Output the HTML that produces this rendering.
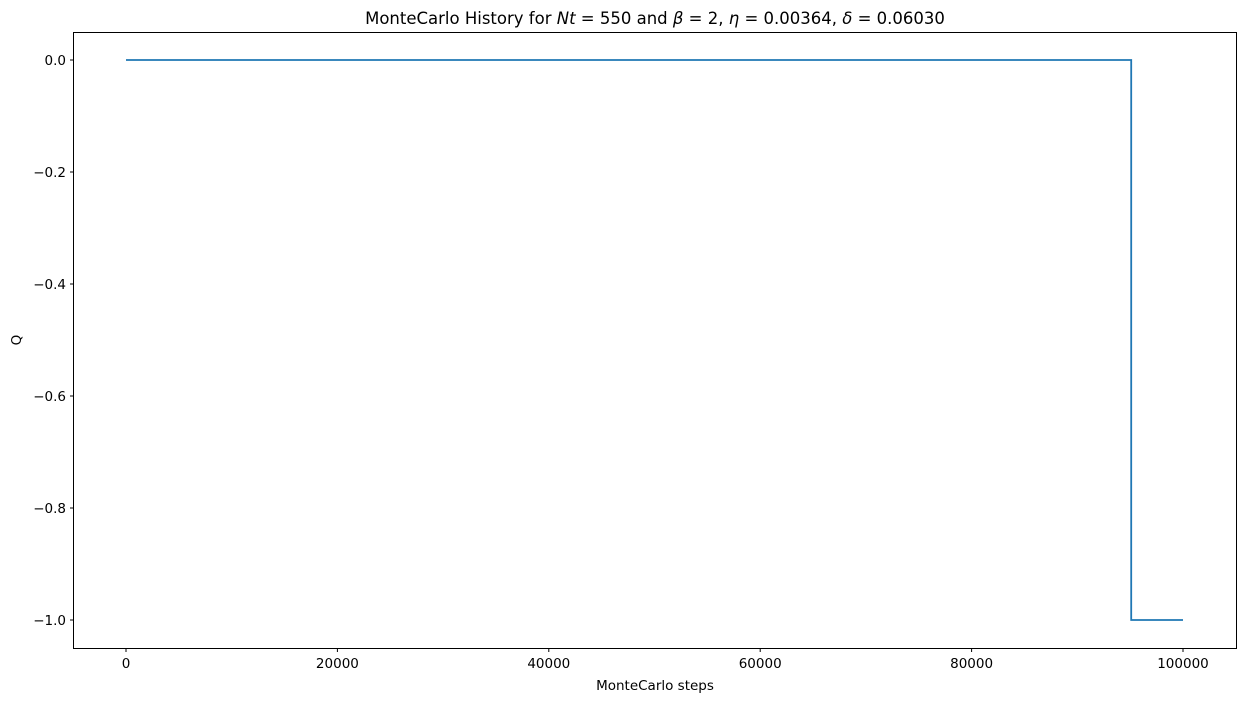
<!DOCTYPE html>
<html><head><meta charset="utf-8"><style>
body{margin:0;background:#fff;font-family:"DejaVu Sans","Liberation Sans",sans-serif;}
svg text{font-family:"DejaVu Sans","Liberation Sans",sans-serif;fill:#000;}
</style></head><body>
<svg id="chart" width="1245" height="701">
<rect x="0" y="0" width="1245" height="701" fill="#fff"/>
<text x="655" y="24" font-size="16.5" text-anchor="middle">MonteCarlo History for <tspan font-style="italic">Nt</tspan> = 550 and  <tspan font-style="italic">β</tspan> = 2, <tspan font-style="italic">η</tspan> = 0.00364, <tspan font-style="italic">δ</tspan> = 0.06030</text>
<g id="xt"></g><g id="yt"></g>
<path id="line" fill="none" stroke="#1f77b4" stroke-width="1.8"/>
<rect x="73.5" y="32.5" width="1163" height="616" fill="none" stroke="#000" stroke-width="1"/>
<text x="655" y="690" font-size="13.5" text-anchor="middle">MonteCarlo steps</text>
<text x="21" y="340" font-size="13.5" text-anchor="middle" transform="rotate(-90 21 340)">Q</text>
</svg>
<script>
const xTicks=[0,20000,40000,60000,80000,100000];
const yTicks=[0.0,-0.2,-0.4,-0.6,-0.8,-1.0];
const yTickLabels=["0.0","−0.2","−0.4","−0.6","−0.8","−1.0"];
const stepX=[0,95100,95100,100000];
const stepQ=[0,0,-1,-1];
const xs=v=>126+(v/100000)*(1183-126);
const ys=v=>60+(-v)*(620-60);
const NS="http://www.w3.org/2000/svg";
const xg=document.getElementById('xt'),yg=document.getElementById('yt');
xTicks.forEach(t=>{
 const l=document.createElementNS(NS,'line');
 l.setAttribute('x1',xs(t));l.setAttribute('x2',xs(t));l.setAttribute('y1',648.5);l.setAttribute('y2',652);l.setAttribute('stroke','#000');
 
 
 xg.appendChild(l);
 const tx=document.createElementNS(NS,'text');
 tx.setAttribute('x',xs(t));tx.setAttribute('y',668);tx.setAttribute('font-size','13.5');tx.setAttribute('text-anchor','middle');tx.textContent=t;
 
 
 xg.appendChild(tx);
});
yTicks.forEach((t,i)=>{
 const l=document.createElementNS(NS,'line');
 l.setAttribute('x1',70);l.setAttribute('x2',73.5);l.setAttribute('y1',ys(t));l.setAttribute('y2',ys(t));l.setAttribute('stroke','#000');
 
 
 yg.appendChild(l);
 const tx=document.createElementNS(NS,'text');
 tx.setAttribute('x',66);tx.setAttribute('y',ys(t)+5);tx.setAttribute('font-size','13.5');tx.setAttribute('text-anchor','end');tx.textContent=yTickLabels[i];
 
 
 yg.appendChild(tx);
});
document.getElementById('line').setAttribute('d',stepX.map((x,i)=>(i?'L':'M')+xs(x)+' '+ys(stepQ[i])).join(' '));
</script>
</body></html>
